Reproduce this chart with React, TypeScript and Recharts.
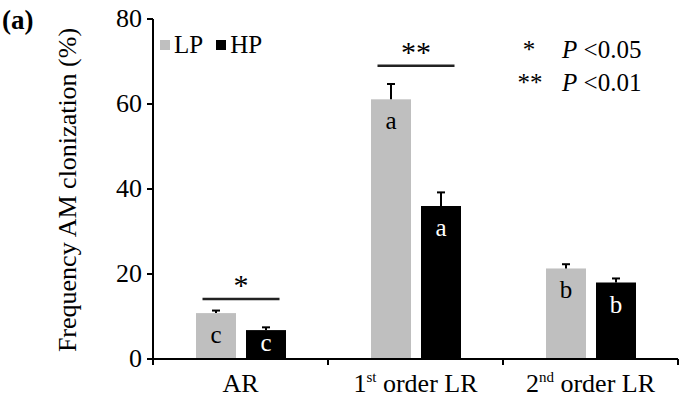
import { Bar, BarChart, Legend, XAxis, YAxis } from 'recharts'

const categories = ['AR', '1st order LR', '2nd order LR']
const seriesNames = ['LP', 'HP']
const lpValues = [10.8, 61.1, 21.3]
const hpValues = [6.8, 36.0, 18.0]
const lpErrors = [0.6, 3.6, 1.0]
const hpErrors = [0.65, 3.2, 0.95]
const lpLetters = ['c', 'a', 'b']
const hpLetters = ['c', 'a', 'b']
const sigLabels = ['*', '**', '']
const sigLevels = [14.1, 69, 0]
const yTicks = [0, 20, 40, 60, 80]

const data = categories.map((category, i) => ({
  category,
  lp: lpValues[i],
  hp: hpValues[i],
  lpErr: lpErrors[i],
  hpErr: hpErrors[i],
  lpLetter: lpLetters[i],
  hpLetter: hpLetters[i],
  sig: sigLabels[i],
  sigLevel: sigLevels[i],
}))

const FONT = '"Times New Roman", "Liberation Serif", serif'
const BAR_GAP = 10

if (typeof document !== 'undefined') document.body.style.margin = '0'

function makeShape(key: 'lp' | 'hp', letterColor: string) {
  return (props: any) => {
    const { x, y, width, height, fill, payload } = props
    const value = payload[key]
    const unit = value > 0 ? height / value : 0
    const cx = x + width / 2
    const errTop = y - payload[`${key}Err`] * unit
    const letterY = y + Math.min(30, height - 8)
    const pairMid = x + width + BAR_GAP / 2
    const sigY = y + height - payload.sigLevel * unit
    return (
      <g>
        <rect x={x} y={y} width={width} height={height} fill={fill} />
        <line x1={cx} y1={y} x2={cx} y2={errTop} stroke="#000" strokeWidth={2} />
        <line x1={cx - 4} y1={errTop} x2={cx + 4} y2={errTop} stroke="#000" strokeWidth={2} />
        <text x={cx} y={letterY} textAnchor="middle" fill={letterColor} style={{ fontSize: 25, fontFamily: FONT }}>
          {payload[`${key}Letter`]}
        </text>
        {key === 'lp' && payload.sig && (
          <g>
            <line x1={pairMid - 38.5} y1={sigY} x2={pairMid + 38.5} y2={sigY} stroke="#222" strokeWidth={2.5} />
            <text x={pairMid} y={sigY - 4} textAnchor="middle" fill="#000" style={{ fontSize: 30, fontFamily: FONT }}>
              {payload.sig}
            </text>
          </g>
        )}
      </g>
    )
  }
}

function CategoryTick(props: any) {
  const { x, y, payload, index } = props
  const off = payload.offset || 87.5
  const m = /^(\d+)(st|nd|rd|th)(.*)$/.exec(payload.value)
  return (
    <g>
      {index === 0 && <line x1={x - off} y1={y} x2={x - off} y2={y + 6} stroke="#000" strokeWidth={2} />}
      <line x1={x + off} y1={y} x2={x + off} y2={y + 6} stroke="#000" strokeWidth={2} />
      <text x={x} y={y + 33} textAnchor="middle" fill="#000" style={{ fontSize: 26, fontFamily: FONT }}>
        {m ? (
          <>
            <tspan>{m[1]}</tspan>
            <tspan style={{ fontSize: 15 }} dy={-10}>{m[2]}</tspan>
            <tspan dy={10}>{m[3]}</tspan>
          </>
        ) : (
          payload.value
        )}
      </text>
    </g>
  )
}

function YTick(props: any) {
  const { x, y, payload } = props
  return (
    <text x={x} y={y} dy={8} textAnchor="end" fill="#000" style={{ fontSize: 26, fontFamily: FONT }}>
      {payload.value}
    </text>
  )
}

function LegendContent({ payload }: any) {
  const items = [...(payload || [])].sort(
    (a: any, b: any) => seriesNames.indexOf(a.value) - seriesNames.indexOf(b.value),
  )
  return (
    <div style={{ display: 'flex', alignItems: 'center', fontFamily: FONT, fontSize: 25, lineHeight: '28px', color: '#000' }}>
      {items.map((p: any) => (
        <span key={p.value} style={{ display: 'flex', alignItems: 'center', marginRight: 13 }}>
          <span style={{ width: 10, height: 10, background: p.color, marginRight: 4, display: 'inline-block' }} />
          {p.value}
        </span>
      ))}
    </div>
  )
}

export default function App() {
  return (
    <div style={{ position: 'relative', width: 681, height: 401, background: '#fff' }}>
      <BarChart
        width={681}
        height={401}
        data={data}
        margin={{ top: 19, right: 3, bottom: 0, left: 0 }}
        barCategoryGap={43}
        barGap={BAR_GAP}
      >
        <XAxis
          dataKey="category"
          height={42}
          interval={0}
          tickSize={0}
          tickMargin={0}
          tickLine={false}
          tick={<CategoryTick />}
          axisLine={{ stroke: '#000', strokeWidth: 2 }}
        />
        <XAxis
          xAxisId="top"
          dataKey="category"
          orientation="top"
          height={0}
          tick={false}
          tickLine={false}
          axisLine={{ stroke: '#000', strokeWidth: 1.5 }}
        />
        <YAxis
          width={153}
          domain={[0, 80]}
          ticks={yTicks}
          tickSize={6}
          tickMargin={5}
          tick={<YTick />}
          tickLine={{ stroke: '#000', strokeWidth: 2 }}
          axisLine={{ stroke: '#000', strokeWidth: 2 }}
          label={{
            content: () => (
              <text
                transform="translate(76,190) rotate(-90)"
                textAnchor="middle"
                fill="#000"
                style={{ fontSize: 26, fontFamily: FONT }}
              >
                Frequency AM clonization (%)
              </text>
            ),
          }}
        />
        <YAxis
          yAxisId="right"
          orientation="right"
          width={0}
          domain={[0, 80]}
          tick={false}
          tickLine={false}
          axisLine={{ stroke: '#000', strokeWidth: 1.5 }}
        />
        <Legend
          layout="vertical"
          align="center"
          verticalAlign="middle"
          content={<LegendContent />}
          wrapperStyle={{ left: 160, top: 31, width: 'auto', height: 'auto' }}
        />
        <Bar dataKey="lp" name="LP" fill="#bfbfbf" shape={makeShape('lp', '#000')} isAnimationActive={false} />
        <Bar dataKey="hp" name="HP" fill="#000000" shape={makeShape('hp', '#fff')} isAnimationActive={false} />
      </BarChart>
      <svg width={681} height={401} style={{ position: 'absolute', left: 0, top: 0, pointerEvents: 'none' }}>
        <text x={2} y={29} fill="#000" style={{ fontSize: 27, fontWeight: 'bold', fontFamily: FONT }}>(a)</text>
        <g fill="#000" style={{ fontSize: 25, fontFamily: FONT }}>
          <text x={529} y={58} textAnchor="middle">*</text>
          <text x={562} y={58}>
            <tspan style={{ fontStyle: 'italic' }}>P</tspan> &lt;0.05
          </text>
          <text x={530} y={91} textAnchor="middle">**</text>
          <text x={562} y={91}>
            <tspan style={{ fontStyle: 'italic' }}>P</tspan> &lt;0.01
          </text>
        </g>
      </svg>
    </div>
  )
}
